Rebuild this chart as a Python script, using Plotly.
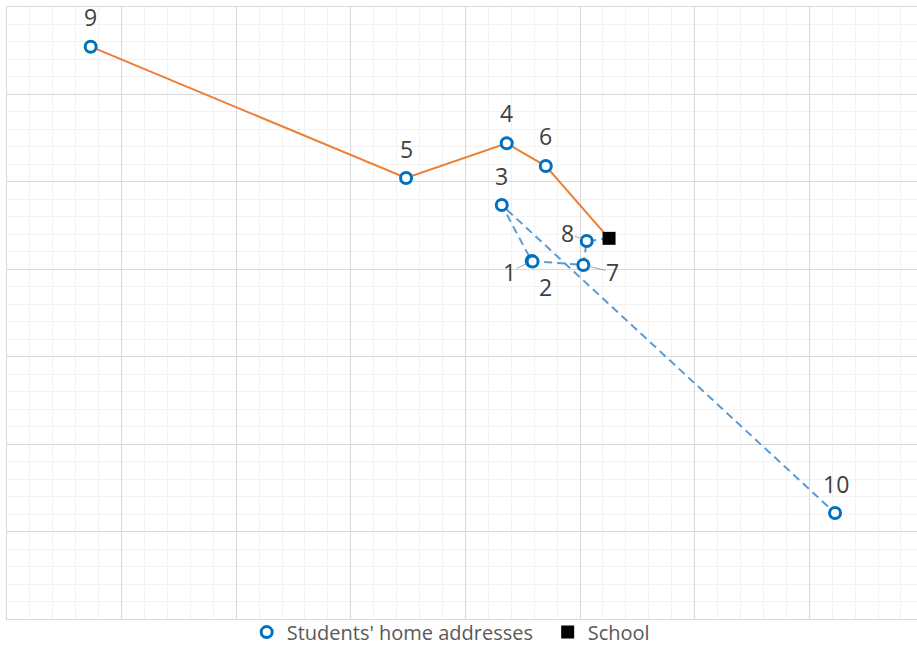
import plotly.graph_objects as go

# Students' home addresses (map grid units)
student_ids = [1, 2, 3, 4, 5, 6, 7, 8, 9, 10]
student_x = [4.578, 4.586, 4.317, 4.360, 3.482, 4.701, 5.029, 5.058, 0.730, 7.225]
student_y = [4.095, 4.088, 4.735, 5.441, 5.044, 5.181, 4.049, 4.323, 6.546, 1.212]

# School location
school_x = [5.253]
school_y = [4.354]

# Two routes, listed as stop order
route_orange = [9, 5, 4, 6, "School"]
route_blue = ["School", 8, 7, 2, 1, 3, 10]

# Label placement (pixel offsets from each point) and leader lines
label_offset = {
    1: (-22, 11), 2: (13, 25), 3: (0, -29), 4: (0, -30), 5: (0, -29),
    6: (0, -30), 7: (29, 7), 8: (-19, -8), 9: (0, -30), 10: (1, -29),
}
leader = {1, 7, 8}

coords = {sid: (x, y) for sid, x, y in zip(student_ids, student_x, student_y)}
coords["School"] = (school_x[0], school_y[0])


def route_xy(route):
    return [coords[s][0] for s in route], [coords[s][1] for s in route]


fig = go.Figure()

ox, oy = route_xy(route_orange)
fig.add_trace(go.Scatter(x=ox, y=oy, mode="lines", showlegend=False,
                         line=dict(color="#ED7D31", width=2), hoverinfo="skip"))
bx, by = route_xy(route_blue)
fig.add_trace(go.Scatter(x=bx, y=by, mode="lines", showlegend=False,
                         line=dict(color="#5B9BD5", width=2, dash="8px,5px"),
                         hoverinfo="skip"))

fig.add_trace(go.Scatter(
    x=student_x, y=student_y, mode="markers", name="Students' home addresses",
    marker=dict(symbol="circle", size=11, color="white",
                line=dict(color="#0070C0", width=3)),
))
fig.add_trace(go.Scatter(
    x=school_x, y=school_y, mode="markers", name="School",
    marker=dict(symbol="square", size=13, color="black",
                line=dict(color="black", width=0)),
))

FONT = "'Open Sans', Lato, sans-serif"
label_font = dict(family=FONT, size=23, color="#404040")
for sid, x, y in zip(student_ids, student_x, student_y):
    dx, dy = label_offset[sid]
    if sid in leader:
        fig.add_annotation(x=x, y=y, text=str(sid), showarrow=True, arrowhead=0,
                           arrowwidth=1, arrowcolor="#A6A6A6", ax=dx, ay=dy,
                           standoff=6, font=label_font, borderpad=0)
    else:
        fig.add_annotation(x=x, y=y, text=str(sid), showarrow=False,
                           xshift=dx, yshift=-dy, font=label_font)

axis_common = dict(
    showticklabels=False, ticks="", zeroline=False,
    showgrid=True, gridcolor="#D9D9D9", gridwidth=1,
    showline=True, linecolor="#D9D9D9", linewidth=1, mirror=True,
    tick0=0, dtick=1,
)
fig.update_xaxes(range=[0, 7.94], minor=dict(dtick=0.2, showgrid=True,
                 gridcolor="#F2F2F2", gridwidth=1), **axis_common)
fig.update_yaxes(range=[0, 7], minor=dict(dtick=0.2, showgrid=True,
                 gridcolor="#F2F2F2", gridwidth=1), **axis_common)

fig.update_layout(
    width=917, height=647,
    margin=dict(l=7, r=0, t=7, b=28, autoexpand=False),
    paper_bgcolor="white", plot_bgcolor="white",
    showlegend=True,
    legend=dict(orientation="h", xref="container", x=0.269, xanchor="left",
                yref="container", y=0.023, yanchor="middle",
                font=dict(family=FONT, size=20, color="#595959"),
                itemwidth=30, entrywidth=256, tracegroupgap=0,
                bgcolor="rgba(0,0,0,0)"),
)

fig.write_html("out.html")
